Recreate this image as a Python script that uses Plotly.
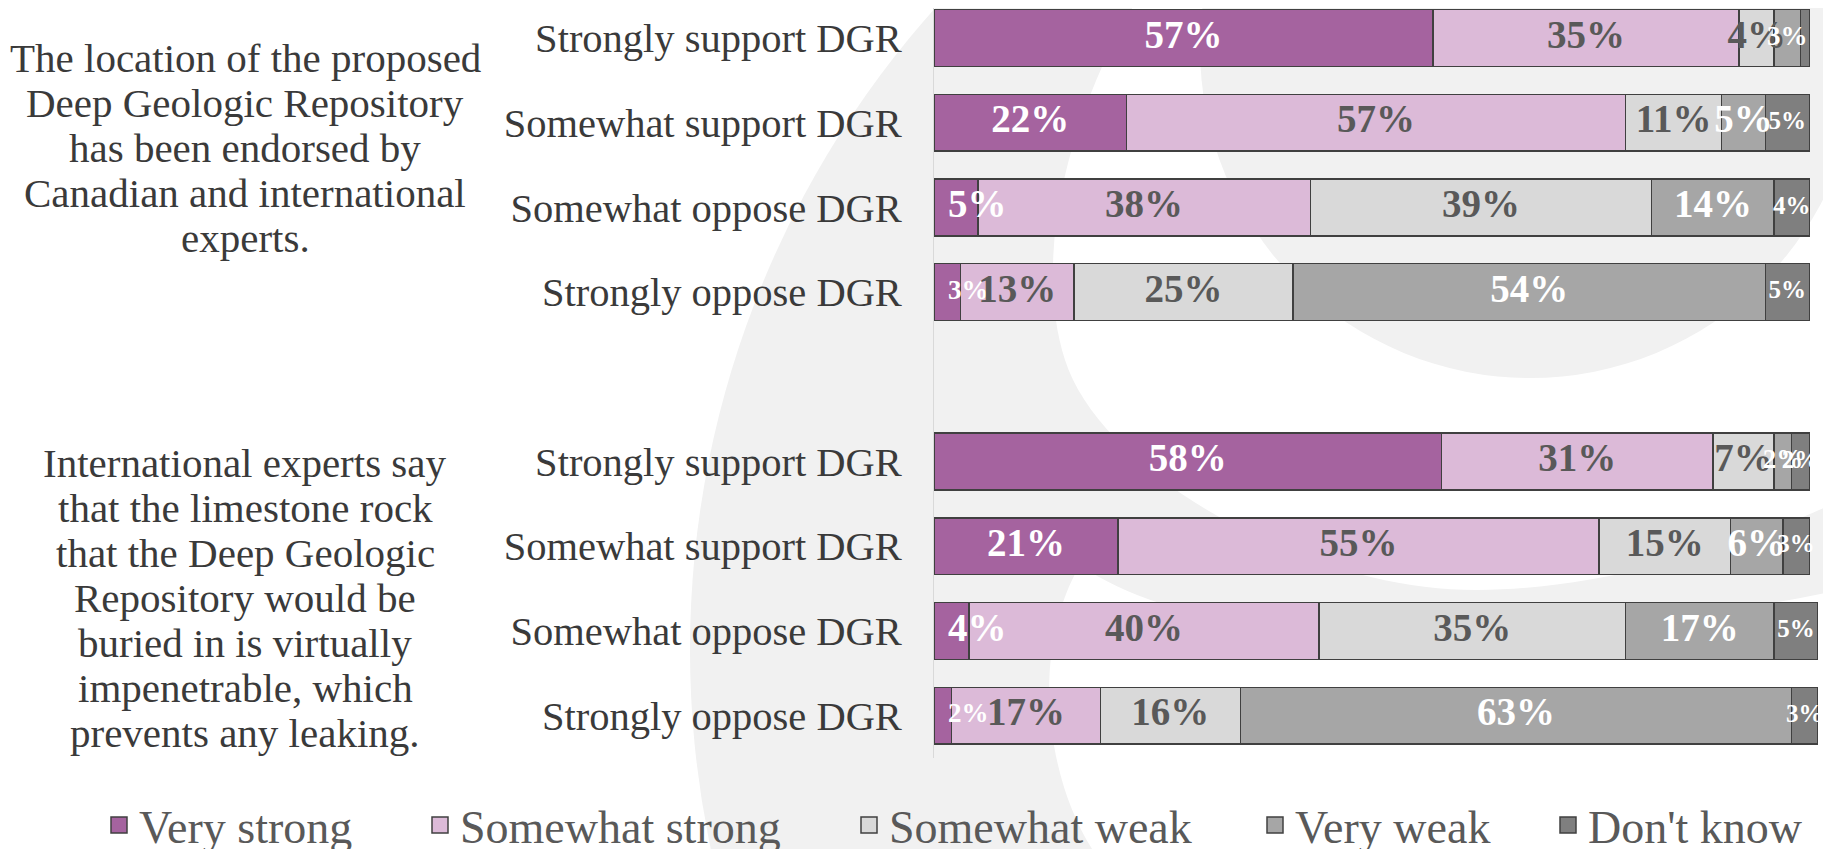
import plotly.graph_objects as go

# ---------------- data ----------------
categories = ["Strongly support DGR", "Somewhat support DGR",
              "Somewhat oppose DGR", "Strongly oppose DGR"]
statements = [
    ["The location of the proposed", "Deep Geologic Repository",
     "has been endorsed by", "Canadian and international", "experts."],
    ["International experts say", "that the limestone rock",
     "that the Deep Geologic", "Repository would be",
     "buried in is virtually", "impenetrable, which", "prevents any leaking."],
]
series_names = ["Very strong", "Somewhat strong", "Somewhat weak", "Very weak", "Don't know"]

# statement 1: endorsed by experts
very_strong_1 = [57, 22, 5, 3]
somewhat_strong_1 = [35, 57, 38, 13]
somewhat_weak_1 = [4, 11, 39, 25]
very_weak_1 = [3, 5, 14, 54]
dont_know_1 = [1, 5, 4, 5]

# statement 2: limestone virtually impenetrable
very_strong_2 = [58, 21, 4, 2]
somewhat_strong_2 = [31, 55, 40, 17]
somewhat_weak_2 = [7, 15, 35, 16]
very_weak_2 = [2, 6, 17, 63]
dont_know_2 = [2, 3, 5, 3]

block1 = [very_strong_1, somewhat_strong_1, somewhat_weak_1, very_weak_1, dont_know_1]
block2 = [very_strong_2, somewhat_strong_2, somewhat_weak_2, very_weak_2, dont_know_2]

# ---------------- style ----------------
colors = ["#A5639F", "#DCBAD8", "#D9D9D9", "#A6A6A6", "#7F7F7F"]
label_colors = ["white", "#595959", "#595959", "white", "white"]
legend_widths = [276, 384, 361, 248, 240]
SERIF = "Liberation Serif, Times New Roman, serif"
OFF = 8                      # page body margin
W, H = 1823, 841
ML, MR, MT, MB = 926, 13, 0, 91
PW, PH = W - ML - MR, H - MT - MB
X_MAX = 101
PX_PER_UNIT = PW / X_MAX


def px(x):                   # page pixel -> paper x
    return (x - OFF - ML) / PW


def py(y):                   # page pixel -> paper y
    return (MT + PH - (y - OFF)) / PH


positions = [b * (len(categories) + 1) + i for b in range(2) for i in range(len(categories))]
tick_text = categories + categories

fig = go.Figure()
all_vals = [block1[k] + block2[k] for k in range(len(series_names))]
starts = [0] * len(positions)
for k, name in enumerate(series_names):
    vals = all_vals[k]
    fig.add_trace(go.Bar(
        x=vals, y=positions, orientation="h", name=name,
        marker=dict(color=colors[k], line=dict(color="#404040", width=1.5)),
        width=0.67, showlegend=False, hoverinfo="skip",
    ))
    texts = [f"{v}%" if v > 1 else "" for v in vals]
    sizes = [25 if k == 4 else (27 if v <= 3 else 39) for v in vals]
    centers = []
    for s, v, t, fs in zip(starts, vals, texts, sizes):
        c = s + v / 2
        half_w = fs * (0.5 * (len(t) - 1) + 1.0) / 2 / PX_PER_UNIT
        # keep labels inside the chart area (like the source chart)
        c = max(c, 14 / PX_PER_UNIT + half_w)
        centers.append(c)
    fig.add_trace(go.Scatter(
        x=centers, y=positions, mode="text", text=texts,
        textposition="middle center", cliponaxis=False,
        textfont=dict(family=SERIF, size=sizes, color=label_colors[k], weight="bold"),
        showlegend=False, hoverinfo="skip",
    ))
    starts = [s + v for s, v in zip(starts, vals)]

for k, name in enumerate(series_names):
    fig.add_trace(go.Scatter(
        x=[None], y=[None], mode="markers", name=name,
        marker=dict(symbol="square", size=16, color=colors[k],
                    line=dict(color="#404040", width=1.5)),
        legendwidth=legend_widths[k], showlegend=True,
    ))

# left-hand statement texts, one annotation per line
annotations = []
block_centers = [148, 598]
line_pitch = 45
for b, lines in enumerate(statements):
    n = len(lines)
    for i, line in enumerate(lines):
        yc = block_centers[b] + (i - (n - 1) / 2) * line_pitch
        annotations.append(dict(
            x=px(245), y=py(yc), xref="paper", yref="paper", text=line,
            showarrow=False, xanchor="center", yanchor="middle",
            font=dict(family=SERIF, size=41, color="#3a3a3a"),
        ))

# faint background watermark
WM = "#F1F1F1"


def circle(cx, cy, r, color):
    return dict(type="circle", xref="paper", yref="paper", layer="below",
                x0=px(cx - r), x1=px(cx + r), y0=py(cy + r), y1=py(cy - r),
                fillcolor=color, line=dict(width=0))


def path(points_cmds, color):
    parts = []
    for cmd, pts in points_cmds:
        coords = " ".join(f"{px(a):.5f},{py(b):.5f}" for a, b in pts)
        parts.append(f"{cmd} {coords}")
    return dict(type="path", xref="paper", yref="paper", layer="below",
                path=" ".join(parts) + " Z", fillcolor=color, line=dict(width=0))


shapes = [
    circle(1653, 650, 963, WM),
    path([("M", [(1140, -5)]),
          ("C", [(1075, 100), (1030, 250), (1065, 360)]),
          ("C", [(1100, 470), (1300, 590), (1477, 590)]),
          ("C", [(1600, 590), (1750, 545), (1840, 500)]),
          ("L", [(1840, -5)])], "white"),
    circle(1530, 48, 330, WM),
    path([("M", [(1096, 855)]),
          ("C", [(1045, 780), (1030, 650), (1080, 565)]),
          ("C", [(1200, 650), (1500, 660), (1840, 590)]),
          ("L", [(1840, 855)])], "white"),
]

fig.update_layout(
    width=W, height=H,
    margin=dict(l=ML, r=MR, t=MT, b=MB, autoexpand=False),
    barmode="stack",
    paper_bgcolor="white", plot_bgcolor="rgba(0,0,0,0)",
    xaxis=dict(range=[0, X_MAX], visible=False, fixedrange=True),
    yaxis=dict(range=[8.5, -0.354], tickmode="array", tickvals=positions,
               ticktext=tick_text, showgrid=False, zeroline=False,
               showline=True, linecolor="#D9D9D9", linewidth=1, ticks="",
               ticklabelstandoff=23, fixedrange=True,
               tickfont=dict(family=SERIF, size=40.5, color="#3a3a3a")),
    legend=dict(orientation="h", traceorder="normal",
                x=px(99), y=py(825), xanchor="left", yanchor="middle",
                font=dict(family=SERIF, size=46, color="#595959"),
                bgcolor="rgba(0,0,0,0)", itemclick=False, itemdoubleclick=False),
    annotations=annotations,
    shapes=shapes,
    showlegend=True,
)

fig.write_html("out.html")
